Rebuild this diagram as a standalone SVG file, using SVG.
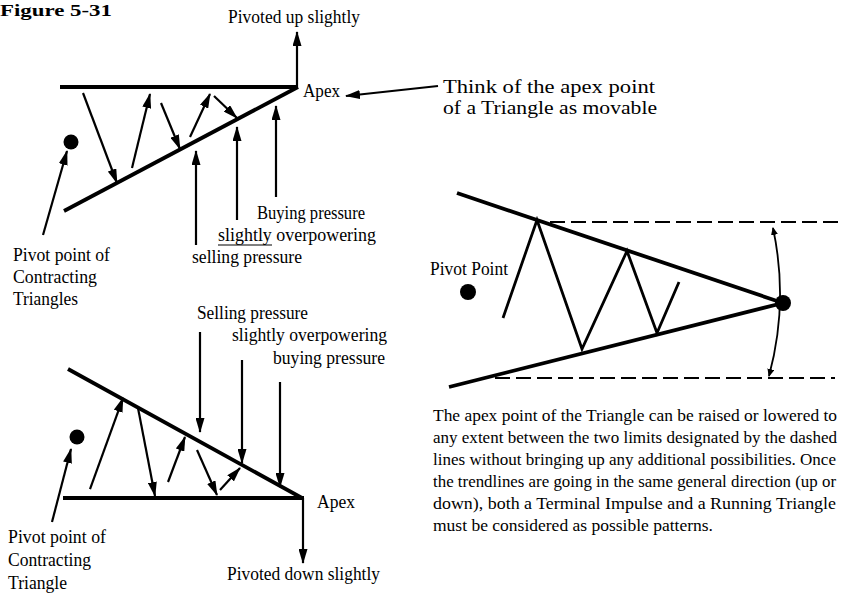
<svg xmlns="http://www.w3.org/2000/svg" width="841" height="594" viewBox="0 0 841 594">
<style>
text{font-family:"Liberation Serif","Times New Roman",serif;font-size:19px;fill:#000}
.bold{font-weight:bold;font-size:17px}
.para{font-size:16.5px}
.trend{stroke:#000;stroke-width:3.8;fill:none;stroke-linecap:butt}
.arr{stroke:#000;stroke-width:2.2;fill:none;marker-end:url(#ah)}
.wave{stroke:#000;stroke-width:2.8;fill:none;stroke-linejoin:miter}
.dash{stroke:#000;stroke-width:2;stroke-dasharray:15 6;fill:none}
.arc{stroke:#000;stroke-width:1.8;fill:none;marker-start:url(#sh);marker-end:url(#sh)}
.dot{fill:#000}
</style>
<defs>
<marker id="ah" markerUnits="userSpaceOnUse" markerWidth="15" markerHeight="9" refX="14" refY="4.5" orient="auto">
<path d="M0,0 L15,4.5 L0,9 Z" fill="#000"/>
</marker>
<marker id="sh" markerUnits="userSpaceOnUse" markerWidth="8" markerHeight="7" refX="7" refY="3.5" orient="auto-start-reverse">
<path d="M0,0 L8,3.5 L0,7 Z" fill="#000"/>
</marker>
</defs>

<text class="bold" x="0" y="16" textLength="112" lengthAdjust="spacingAndGlyphs">Figure 5-31</text>

<g id="top-triangle">
<line class="trend" x1="60" y1="87" x2="298" y2="87"/>
<line class="trend" x1="64" y1="211" x2="298" y2="87"/>
<circle class="dot" cx="71" cy="142" r="7.5"/>
</g>
<g id="top-labels">
<text x="228" y="23" textLength="132" lengthAdjust="spacingAndGlyphs">Pivoted up slightly</text>
<text x="303" y="97" textLength="37" lengthAdjust="spacingAndGlyphs">Apex</text>
<text x="443" y="93" textLength="212" lengthAdjust="spacingAndGlyphs">Think of the apex point</text>
<text x="443" y="114" textLength="214" lengthAdjust="spacingAndGlyphs">of a Triangle as movable</text>
<text x="257" y="219" textLength="108" lengthAdjust="spacingAndGlyphs">Buying pressure</text>
<text x="218" y="241" textLength="158" lengthAdjust="spacingAndGlyphs">slightly overpowering</text>
<line x1="218" y1="245" x2="272" y2="245" stroke="#000" stroke-width="1.2"/>
<text x="192" y="263" textLength="110" lengthAdjust="spacingAndGlyphs">selling pressure</text>
<text x="13" y="261" textLength="97" lengthAdjust="spacingAndGlyphs">Pivot point of</text>
<text x="13" y="283" textLength="84" lengthAdjust="spacingAndGlyphs">Contracting</text>
<text x="13" y="305" textLength="65" lengthAdjust="spacingAndGlyphs">Triangles</text>
</g>

<g id="bottom-triangle">
<line class="trend" x1="63" y1="498" x2="304" y2="498"/>
<line class="trend" x1="68" y1="369" x2="302" y2="498"/>
<circle class="dot" cx="77" cy="437" r="7.5"/>
</g>
<g id="bottom-labels">
<text x="197" y="319" textLength="111" lengthAdjust="spacingAndGlyphs">Selling pressure</text>
<text x="232" y="341" textLength="155" lengthAdjust="spacingAndGlyphs">slightly overpowering</text>
<text x="273" y="364" textLength="112" lengthAdjust="spacingAndGlyphs">buying pressure</text>
<text x="317" y="508" textLength="38" lengthAdjust="spacingAndGlyphs">Apex</text>
<text x="227" y="580" textLength="153" lengthAdjust="spacingAndGlyphs">Pivoted down slightly</text>
<text x="8" y="543" textLength="98" lengthAdjust="spacingAndGlyphs">Pivot point of</text>
<text x="8" y="566" textLength="83" lengthAdjust="spacingAndGlyphs">Contracting</text>
<text x="8" y="589" textLength="59" lengthAdjust="spacingAndGlyphs">Triangle</text>
</g>

<g id="right-triangle">
<line class="trend" x1="457" y1="193" x2="783" y2="303"/>
<line class="trend" x1="449" y1="387" x2="783" y2="303"/>
<polyline class="wave" points="503,318 537,220 582,349 627,251 657,333 679,282"/>
<line class="dash" x1="550" y1="222" x2="841" y2="222"/>
<line class="dash" x1="495" y1="378" x2="835" y2="378"/>
<circle class="dot" cx="783" cy="303" r="8"/>
<circle class="dot" cx="468" cy="292" r="8"/>
<text x="430" y="275" textLength="78" lengthAdjust="spacingAndGlyphs">Pivot Point</text>
</g>

<g id="right-text">
<text class="para" x="433" y="421" textLength="404" lengthAdjust="spacingAndGlyphs">The apex point of the Triangle can be raised or lowered to</text>
<text class="para" x="433" y="443" textLength="404" lengthAdjust="spacingAndGlyphs">any extent between the two limits designated by the dashed</text>
<text class="para" x="433" y="465" textLength="403" lengthAdjust="spacingAndGlyphs">lines without bringing up any additional possibilities. Once</text>
<text class="para" x="433" y="487" textLength="403" lengthAdjust="spacingAndGlyphs">the trendlines are going in the same general direction (up or</text>
<text class="para" x="433" y="509" textLength="403" lengthAdjust="spacingAndGlyphs">down), both a Terminal Impulse and a Running Triangle</text>
<text class="para" x="433" y="531" textLength="280" lengthAdjust="spacingAndGlyphs">must be considered as possible patterns.</text>
</g>

<g id="connectors">
<line class="arr" x1="297" y1="87" x2="297" y2="32"/>
<line class="arr" x1="438" y1="86" x2="346" y2="96"/>
<line class="arr" x1="43" y1="235" x2="67" y2="151"/>
<line class="arr" x1="83" y1="93" x2="117" y2="183"/>
<line class="arr" x1="132" y1="168" x2="150" y2="94"/>
<line class="arr" x1="161" y1="103" x2="180" y2="149"/>
<line class="arr" x1="190" y1="137" x2="210" y2="94"/>
<line class="arr" x1="214" y1="96" x2="237" y2="118"/>
<line class="arr" x1="196" y1="245" x2="196" y2="151"/>
<line class="arr" x1="237" y1="220" x2="237" y2="127"/>
<line class="arr" x1="276" y1="197" x2="276" y2="106"/>
<line class="arr" x1="303" y1="498" x2="303" y2="563"/>
<line class="arr" x1="52" y1="522" x2="71" y2="449"/>
<line class="arr" x1="90" y1="489" x2="123" y2="398"/>
<line class="arr" x1="138" y1="408" x2="155" y2="496"/>
<line class="arr" x1="168" y1="482" x2="185" y2="437"/>
<line class="arr" x1="197" y1="450" x2="217" y2="495"/>
<line class="arr" x1="220" y1="490" x2="240" y2="468"/>
<line class="arr" x1="200" y1="332" x2="200" y2="432"/>
<line class="arr" x1="242" y1="360" x2="242" y2="463"/>
<line class="arr" x1="280" y1="382" x2="280" y2="487"/>
<path class="arc" d="M 773,228 A 315 315 0 0 1 769,376"/>
</g>
</svg>
